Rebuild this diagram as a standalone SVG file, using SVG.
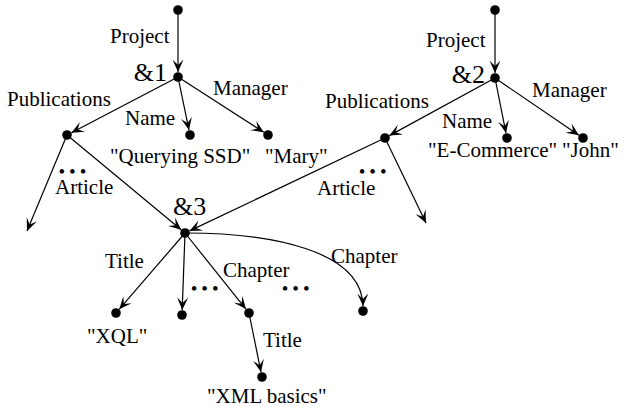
<svg xmlns="http://www.w3.org/2000/svg" width="625" height="407" viewBox="0 0 625 407">
<style>
text{font-family:"Liberation Serif","Times New Roman",serif;font-size:21px;fill:#000}
.ref{font-size:26px}
.dots{font-size:19px;letter-spacing:4px}
.e{fill:none;stroke:#000;stroke-width:1.2;marker-end:url(#ah)}
.n{fill:#000}
</style>
<defs>
<marker id="ah" markerUnits="userSpaceOnUse" markerWidth="16" markerHeight="14" viewBox="-14 -7 16 14" refX="0" refY="0" orient="auto">
<path d="M0,0 L-12.5,-5.5 L-7,0 L-12.5,5.5 Z" fill="#000"/>
</marker>
</defs>
<g id="connectors">
<line class="e" x1="178" y1="10" x2="178" y2="72"/>
<line class="e" x1="178" y1="77" x2="71.4" y2="132.7"/>
<line class="e" x1="178" y1="77" x2="189" y2="130.1"/>
<line class="e" x1="178" y1="77" x2="263.8" y2="132.3"/>
<line class="e" x1="67" y1="135" x2="27" y2="231"/>
<line class="e" x1="67" y1="135" x2="181.2" y2="229.8"/>
<line class="e" x1="495" y1="10" x2="495" y2="73"/>
<line class="e" x1="495" y1="78" x2="389.4" y2="135.6"/>
<line class="e" x1="495" y1="78" x2="506" y2="133.1"/>
<line class="e" x1="495" y1="78" x2="578.9" y2="135.2"/>
<line class="e" x1="385" y1="138" x2="189.5" y2="230.9"/>
<line class="e" x1="385" y1="138" x2="426" y2="223"/>
<line class="e" x1="185" y1="233" x2="119.3" y2="309.2"/>
<line class="e" x1="185" y1="233" x2="182.2" y2="310"/>
<line class="e" x1="185" y1="233" x2="245.9" y2="309.1"/>
<path class="e" d="M185,233 C270,233 362,250 363,306"/>
<line class="e" x1="249" y1="313" x2="261" y2="372.1"/>
</g>
<g id="root1"><circle class="n" cx="178" cy="10" r="4.8"/></g>
<g id="project1"><circle class="n" cx="178" cy="77" r="4.8"/><text class="ref" x="167" y="81" text-anchor="end">&amp;1</text></g>
<g id="pub1"><circle class="n" cx="67" cy="135" r="4.8"/></g>
<g id="name1"><circle class="n" cx="190" cy="135" r="4.8"/><text x="110" y="163">"Querying SSD"</text></g>
<g id="mary"><circle class="n" cx="268" cy="135" r="4.8"/><text x="265" y="163">"Mary"</text></g>
<g id="root2"><circle class="n" cx="495" cy="10" r="4.8"/></g>
<g id="project2"><circle class="n" cx="495" cy="78" r="4.8"/><text class="ref" x="485" y="83" text-anchor="end">&amp;2</text></g>
<g id="pub2"><circle class="n" cx="385" cy="138" r="4.8"/></g>
<g id="name2"><circle class="n" cx="507" cy="138" r="4.8"/><text x="428" y="157">"E-Commerce"</text></g>
<g id="john"><circle class="n" cx="583" cy="138" r="4.8"/><text x="562" y="157">"John"</text></g>
<g id="article3"><circle class="n" cx="185" cy="233" r="4.8"/><text class="ref" x="173" y="215">&amp;3</text></g>
<g id="xql"><circle class="n" cx="116" cy="313" r="4.8"/><text x="87" y="343">"XQL"</text></g>
<g id="chap0"><circle class="n" cx="182" cy="315" r="4.8"/></g>
<g id="chap1"><circle class="n" cx="249" cy="313" r="4.8"/></g>
<g id="chapn"><circle class="n" cx="363" cy="311" r="4.8"/></g>
<g id="xmlbasics"><circle class="n" cx="262" cy="377" r="4.8"/><text x="207" y="403">"XML basics"</text></g>
<g id="labels">
<text x="110" y="43">Project</text>
<text x="7" y="106">Publications</text>
<text x="125" y="125">Name</text>
<text x="213" y="95">Manager</text>
<text class="dots" x="58.4" y="178">•••</text>
<text x="55" y="194">Article</text>
<text x="426" y="47">Project</text>
<text x="325" y="108">Publications</text>
<text x="442" y="128">Name</text>
<text x="532" y="97">Manager</text>
<text class="dots" x="358.7" y="178">•••</text>
<text x="317" y="195">Article</text>
<text x="105" y="268">Title</text>
<text x="223" y="277">Chapter</text>
<text x="331" y="263">Chapter</text>
<text class="dots" x="190.7" y="295">•••</text>
<text class="dots" x="281.7" y="295">•••</text>
<text x="263" y="347">Title</text>
</g>
</svg>
